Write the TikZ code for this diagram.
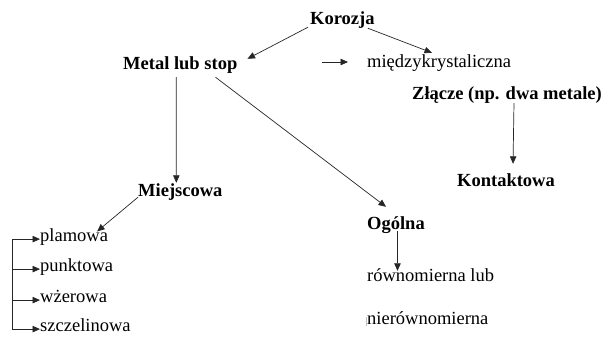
\documentclass[tikz,border=0pt]{standalone}
\usepackage{fontspec}
\setmainfont{Liberation Serif}
\usepackage{tikz}
\usetikzlibrary{arrows.meta,positioning,calc}
\tikzset{
  txt/.style={inner sep=0pt, anchor=base west, text height=0.7em, text depth=0.2em,
              font=\fontsize{18.5}{22}\selectfont},
  txtbold/.style={txt, font=\fontsize{18.5}{22}\selectfont\bfseries},
  arrow/.style={-{Triangle[length=7.5pt,width=6.5pt]}, line width=0.7pt, black!85},
  line/.style={line width=0.7pt, black!85},
}
\begin{document}
\begin{tikzpicture}[x=1pt,y=-1pt]
\useasboundingbox (0,0) rectangle (603,338);
% top level
\node[txtbold] (kor) at (310,24) {Korozja};
\node[txtbold] (met) at (123,69) {Metal lub stop};
\node[txt] (mie) at (367,67) {międzykrystaliczna};
\node[txtbold] (zla) at (412,99) {Złącze (np. dwa metale)};
\node[txtbold] (kon) at (457,186) {Kontaktowa};
% second level
\node[txtbold] (mjs) at (138,196) {Miejscowa};
\node[txtbold] (ogl) at (367,229) {Ogólna};
\node[txt] (rown) at (367,281) {równomierna lub};
\node[txt] (nie) at (367,324) {nierównomierna};
% local kinds
\node[txt] (pla) at (40,241.6) {plamowa};
\node[txt] (pun) at (40,271.6) {punktowa};
\node[txt] (wze) at (40,302.6) {wżerowa};
\node[txt] (szc) at (40,331.6) {szczelinowa};
\coordinate (br) at (12,237);
\coordinate (s1) at (322,62);
\coordinate (s2) at (348,62);

\draw[arrow] ([xshift=-2pt,yshift=-1pt]kor.south west) -- ([xshift=10pt,yshift=3pt]met.north east);
\draw[arrow] ([xshift=-7pt,yshift=-2pt]kor.south east) -- ([xshift=65pt,yshift=7pt]mie.north west);
\draw[arrow] (s1) -- (s2);
\draw[arrow] ([xshift=-4pt,yshift=-6pt]met.south) -- ([xshift=-4pt,yshift=6pt]mjs.north);
\draw[arrow] ([xshift=-22pt,yshift=-6pt]met.south east) -- ([xshift=19pt,yshift=15pt]ogl.north west);
\draw[arrow] ([xshift=7pt,yshift=-2pt]zla.south) -- ([xshift=7pt,yshift=15pt]kon.north);
\draw[arrow] ([yshift=1pt]mjs.south west) -- ([xshift=23pt,yshift=3pt]pla.north);
\draw[arrow] ([xshift=1.5pt]ogl.south) -- ($(ogl.south |- rown.north)+(1.5,-3)$);
% bracket
\draw[line] (br |- pla.west) -- (br |- szc.west);
\foreach \n in {pla,pun,wze,szc}
  \draw[arrow] (br |- \n.west) -- (\n.west);
\draw[gray!50, line width=0.8pt] ([xshift=-1pt]nie.north west) -- ([xshift=-1pt]nie.south west);
\end{tikzpicture}
\end{document}
